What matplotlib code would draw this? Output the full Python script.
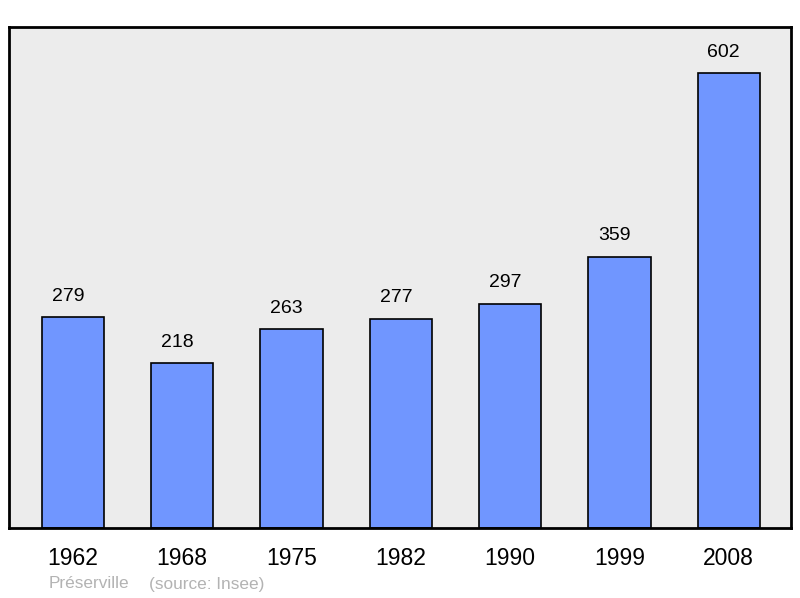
import matplotlib.pyplot as plt

# ------------- donnees -------------
annees = ['1962', '1968', '1975', '1982', '1990', '1999', '2008']
population = [279, 218, 263, 277, 297, 359, 602]

plt.rcParams['font.family'] = ['Liberation Sans', 'DejaVu Sans']

fig = plt.figure(figsize=(8, 5.98), dpi=100)
ax = fig.add_axes([9 / 800, 70 / 598, 782 / 800, 501 / 598])
ax.set_facecolor('#ececec')

x = range(len(annees))
ax.bar(x, population, width=0.57, color='#7096ff', edgecolor='black', linewidth=1.2, zorder=2)

# valeurs au-dessus des barres (un peu decalees vers la gauche comme l'original)
for i, v in zip(x, population):
    ax.annotate(str(v), (i, v), xytext=(-5, 21), textcoords='offset pixels',
                ha='center', va='center', fontsize=14)

ax.set_xlim(-0.585, 6.57)
ax.set_ylim(0, 663)
ax.set_xticks(list(x))
ax.set_xticklabels(annees, fontsize=16.5)
ax.tick_params(axis='x', length=0, pad=14)
ax.set_yticks([])

for s in ax.spines.values():
    s.set_linewidth(2)

fig.text(49 / 800, 1 - 584 / 598, 'Préserville', color='#b3b3b3', fontsize=12.4, va='center')
fig.text(149 / 800, 1 - 584 / 598, '(source: Insee)', color='#b3b3b3', fontsize=12.4, va='center')

plt.savefig('out.png')
